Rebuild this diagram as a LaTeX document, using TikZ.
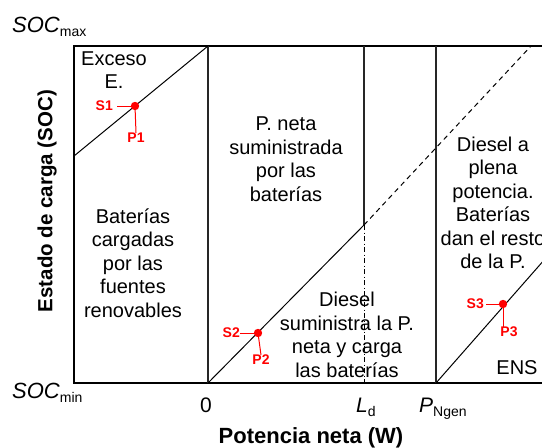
\documentclass[tikz,border=0pt]{standalone}
\usepackage{fontspec}
\setmainfont{Liberation Sans}
\newcommand{\mysub}[1]{\raisebox{-0.22em}{\fontsize{14}{14}\selectfont #1}}
\begin{document}
\begin{tikzpicture}[x=1pt,y=-1pt,
  region/.style={align=center,font=\fontsize{20}{23.5}\selectfont,inner sep=0pt},
  axlab/.style={font=\fontsize{21}{21}\selectfont,inner sep=0pt},
  redlab/.style={text=red,font=\bfseries\fontsize{14}{14}\selectfont,inner sep=0pt},
  frame/.style={line width=2.2pt},
  thinline/.style={line width=1.1pt,black!85},
  diag/.style={line width=1pt},
  reddot/.style={fill=red,draw=none},
  redline/.style={red,line width=1pt}]
\clip (0,0) rectangle (542,448);
\fill[white] (0,0) rectangle (542,448);
% corners and points
\coordinate (TL) at (74,46);
\coordinate (BL) at (74,383);
\coordinate (TR) at (560,46);
\coordinate (BR) at (560,383);
\coordinate (Z0t) at (208,46);
\coordinate (Z0b) at (208,383);
\coordinate (LDt) at (364,46);
\coordinate (LDm) at (364,225);
\coordinate (LDb) at (364,383);
\coordinate (PNt) at (436,46);
\coordinate (PNb) at (436,383);
\coordinate (D1s) at (74,156);
\coordinate (D2e) at (531,46);
\coordinate (D3e) at (545,259);
% frame
\draw[frame] (TR) -- (TL) -- (BL) -- (BR);
% vertical separators
\draw[thinline] (Z0t) -- (Z0b);
\draw[thinline] (LDt) -- (LDm);
\draw[line width=0.9pt,dash pattern=on 5pt off 2.5pt on 1pt off 2.5pt] (LDm) -- (LDb);
\draw[thinline] (PNt) -- (PNb);
% diagonals
\draw[diag] (D1s) -- (Z0t);
\draw[diag] (Z0b) -- (LDm);
\draw[diag,dash pattern=on 5pt off 4pt] (LDm) -- (D2e);
\draw[diag] (PNb) -- (D3e);
% red markers
\coordinate (P1d) at (135,106);
\coordinate (P2d) at (258,333);
\coordinate (P3d) at (503,304);
\node[redlab,anchor=east] (S1) at (113,106) {S1};
\node[redlab,anchor=north] (P1) at (136,133) {P1};
\draw[redline] (S1.east) ++(4,0) -- (P1d);
\draw[redline] (P1d) -- (P1.north);
\node[redlab,anchor=east] (S2) at (240,333) {S2};
\node[redlab,anchor=north] (P2) at (261,355) {P2};
\draw[redline] (S2.east) -- (P2d);
\draw[redline] (P2d) -- (P2.north);
\node[redlab,anchor=east] (S3) at (484,304) {S3};
\node[redlab,anchor=north] (P3) at (509,327) {P3};
\draw[redline] (S3.east) ++(2,0) -- (P3d);
\draw[redline] (P3d) -- (P3d |- P3.north);
\fill[reddot] (P1d) circle (4.2);
\fill[reddot] (P2d) circle (4.2);
\fill[reddot] (P3d) circle (4.2);
% region texts
\node[region] (exc) at (114,70) {Exceso\\E.};
\node[region] (pneta) at (286,159) {P. neta\\suministrada\\por las\\baterías};
\node[region] (bat) at (133,263) {Baterías\\cargadas\\por las\\fuentes\\renovables};
\node[region] (dsum) at (347,335) {Diesel\\suministra la P.\\neta y carga\\las baterías};
\node[region] (dpl) at (493,203) {Diesel a\\plena\\potencia.\\Baterías\\dan el resto\\de la P.};
\node[region] (ens) at (517,368) {ENS};
% axis labels
\node[anchor=base west,inner sep=0pt] (socmax) at (12,32) {\fontsize{22}{22}\selectfont\itshape SOC\upshape\mysub{max}};
\node[anchor=base west,inner sep=0pt] (socmin) at (12,398) {\fontsize{22}{22}\selectfont\itshape SOC\upshape\mysub{min}};
\node[anchor=base,inner sep=0pt] (zero) at (206,412) {\fontsize{21}{21}\selectfont 0};
\node[anchor=base west,inner sep=0pt] (ld) at (356,412) {\fontsize{21}{21}\selectfont\itshape L\upshape\mysub{d}};
\node[anchor=base west,inner sep=0pt] (png) at (419,412) {\fontsize{21}{21}\selectfont\itshape P\upshape\mysub{Ngen}};
\node[anchor=base,inner sep=0pt,font=\bfseries\fontsize{22}{22}\selectfont] (xlab) at (311,443) {Potencia neta (W)};
\node[anchor=center,inner sep=0pt,rotate=90,font=\bfseries\fontsize{20.5}{20.5}\selectfont] (ylab) at (47,201) {Estado de carga (SOC)};
\end{tikzpicture}
\end{document}
